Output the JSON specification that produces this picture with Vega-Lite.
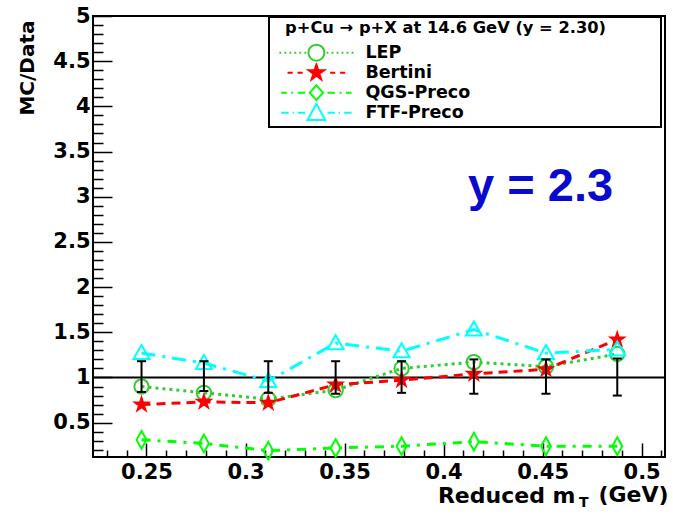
{
  "$schema": "https://vega.github.io/schema/vega-lite/v6.json",
  "width": 572,
  "height": 441,
  "autosize": {"type": "none"},
  "padding": {"left": 93, "top": 16, "right": 8, "bottom": 57},
  "background": "white",
  "config": {
    "view": {"stroke": "black", "strokeWidth": 2},
    "axis": {"grid": false, "domain": false},
    "legend": {
      "titleFont": "DejaVu Sans", "titleFontSize": 16.3, "titleFontWeight": "bold", "titleColor": "black",
      "titlePadding": 6, "titleLimit": 2000,
      "labelFont": "DejaVu Sans", "labelFontSize": 17.5, "labelFontWeight": "bold", "labelColor": "black",
      "labelOffset": 11, "labelLimit": 400,
      "symbolSize": 5476, "symbolStrokeWidth": 2, "symbolOffset": 6, "symbolOpacity": 1,
      "clipHeight": 20, "rowPadding": 0, "padding": 3.4,
      "fillColor": "white", "strokeColor": "black", "strokeWidth": 2
    }
  },
  "datasets": {
    "models": [
      {"model": "LEP", "x": 0.2475, "y": 0.90},
      {"model": "LEP", "x": 0.2790, "y": 0.83},
      {"model": "LEP", "x": 0.3115, "y": 0.76},
      {"model": "LEP", "x": 0.3455, "y": 0.86},
      {"model": "LEP", "x": 0.3788, "y": 1.10},
      {"model": "LEP", "x": 0.4153, "y": 1.17},
      {"model": "LEP", "x": 0.4517, "y": 1.12},
      {"model": "LEP", "x": 0.4877, "y": 1.26},
      {"model": "Bertini", "x": 0.2475, "y": 0.70},
      {"model": "Bertini", "x": 0.2790, "y": 0.73},
      {"model": "Bertini", "x": 0.3115, "y": 0.72},
      {"model": "Bertini", "x": 0.3455, "y": 0.92},
      {"model": "Bertini", "x": 0.3788, "y": 0.97},
      {"model": "Bertini", "x": 0.4153, "y": 1.04},
      {"model": "Bertini", "x": 0.4517, "y": 1.09},
      {"model": "Bertini", "x": 0.4877, "y": 1.42},
      {"model": "QGS-Preco", "x": 0.2475, "y": 0.31},
      {"model": "QGS-Preco", "x": 0.2790, "y": 0.27},
      {"model": "QGS-Preco", "x": 0.3115, "y": 0.19},
      {"model": "QGS-Preco", "x": 0.3455, "y": 0.22},
      {"model": "QGS-Preco", "x": 0.3788, "y": 0.24},
      {"model": "QGS-Preco", "x": 0.4153, "y": 0.29},
      {"model": "QGS-Preco", "x": 0.4517, "y": 0.24},
      {"model": "QGS-Preco", "x": 0.4877, "y": 0.24},
      {"model": "FTF-Preco", "x": 0.2475, "y": 1.27},
      {"model": "FTF-Preco", "x": 0.2790, "y": 1.16},
      {"model": "FTF-Preco", "x": 0.3115, "y": 0.96},
      {"model": "FTF-Preco", "x": 0.3455, "y": 1.38},
      {"model": "FTF-Preco", "x": 0.3788, "y": 1.29},
      {"model": "FTF-Preco", "x": 0.4153, "y": 1.53},
      {"model": "FTF-Preco", "x": 0.4517, "y": 1.27},
      {"model": "FTF-Preco", "x": 0.4877, "y": 1.31}
    ],
    "meas": [
      {"x": 0.2475, "lo": 0.84, "hi": 1.18},
      {"x": 0.2790, "lo": 0.85, "hi": 1.18},
      {"x": 0.3115, "lo": 0.83, "hi": 1.18},
      {"x": 0.3455, "lo": 0.82, "hi": 1.18},
      {"x": 0.3788, "lo": 0.83, "hi": 1.18},
      {"x": 0.4153, "lo": 0.82, "hi": 1.20},
      {"x": 0.4517, "lo": 0.82, "hi": 1.20},
      {"x": 0.4877, "lo": 0.80, "hi": 1.21}
    ]
  },
  "layer": [
    {
      "data": {"values": [{}]},
      "mark": {"type": "rule", "color": "black", "strokeWidth": 2},
      "encoding": {
        "y": {"datum": 1, "type": "quantitative", "scale": {"domain": [0.12, 5], "nice": false, "zero": false}, "axis": null}
      }
    },
    {
      "data": {"name": "models"},
      "mark": {"type": "line", "strokeWidth": 3},
      "encoding": {
        "x": {"field": "x", "type": "quantitative", "scale": {"domain": [0.223, 0.5118], "nice": false, "zero": false}, "axis": null},
        "y": {"field": "y", "type": "quantitative", "scale": {"domain": [0.12, 5], "nice": false, "zero": false}, "axis": null},
        "stroke": {
          "field": "model", "type": "nominal",
          "scale": {"domain": ["LEP", "Bertini", "QGS-Preco", "FTF-Preco"], "range": ["#33cc33", "#ff0000", "#00ff00", "#00ffff"]},
          "legend": null
        },
        "strokeDash": {
          "field": "model", "type": "nominal",
          "scale": {"domain": ["LEP", "Bertini", "QGS-Preco", "FTF-Preco"], "range": [[3, 4], [9, 6], [9, 7, 3, 7], [14, 7, 3, 7]]},
          "legend": null
        }
      }
    },
    {
      "data": {"name": "models"},
      "mark": {"type": "point", "size": 256, "strokeWidth": 2, "opacity": 1},
      "encoding": {
        "x": {"field": "x", "type": "quantitative", "scale": {"domain": [0.223, 0.5118], "nice": false, "zero": false}, "axis": null},
        "y": {"field": "y", "type": "quantitative", "scale": {"domain": [0.12, 5], "nice": false, "zero": false}, "axis": null},
        "stroke": {
          "field": "model", "type": "nominal",
          "scale": {"domain": ["LEP", "Bertini", "QGS-Preco", "FTF-Preco"], "range": ["#33cc33", "#ff0000", "#00ff00", "#00ffff"]},
          "legend": null
        },
        "fill": {
          "field": "model", "type": "nominal",
          "scale": {"domain": ["LEP", "Bertini", "QGS-Preco", "FTF-Preco"], "range": ["transparent", "#ff0000", "transparent", "transparent"]},
          "legend": null
        },
        "shape": {
          "field": "model", "type": "nominal",
          "scale": {"domain": ["LEP", "Bertini", "QGS-Preco", "FTF-Preco"], "range": [
            "M-0.9,0A0.9,0.9 0 1,0 0.9,0A0.9,0.9 0 1,0 -0.9,0Z",
            "M0,-0.85L0.191,-0.263L0.808,-0.263L0.309,0.1L0.5,0.688L0,0.325L-0.5,0.688L-0.309,0.1L-0.808,-0.263L-0.191,-0.263Z",
            "M0,-1.1L0.62,0L0,1.1L-0.62,0Z",
            "M0,-1L1,0.75L-1,0.75Z"
          ]},
          "legend": null
        }
      }
    },
    {
      "data": {"name": "models"},
      "mark": {"type": "point", "size": 256, "strokeWidth": 2, "opacity": 0},
      "encoding": {
        "x": {"field": "x", "type": "quantitative", "scale": {"domain": [0.223, 0.5118], "nice": false, "zero": false}, "axis": null},
        "y": {"field": "y", "type": "quantitative", "scale": {"domain": [0.12, 5], "nice": false, "zero": false}, "axis": null},
        "stroke": {
          "field": "model", "type": "nominal",
          "scale": {"domain": ["LEP", "Bertini", "QGS-Preco", "FTF-Preco"], "range": ["#33cc33", "#ff0000", "#00ff00", "#00ffff"]},
          "legend": {"title": "\u2800p+Cu \u2192 p+X at 14.6 GeV (y = 2.30)\u2800\u2800\u2800\u2800", "orient": "none", "legendX": 176, "legendY": 1}
        },
        "fill": {
          "field": "model", "type": "nominal",
          "scale": {"domain": ["LEP", "Bertini", "QGS-Preco", "FTF-Preco"], "range": ["transparent", "#ff0000", "transparent", "transparent"]},
          "legend": {"title": "\u2800p+Cu \u2192 p+X at 14.6 GeV (y = 2.30)\u2800\u2800\u2800\u2800", "orient": "none", "legendX": 176, "legendY": 1}
        },
        "shape": {
          "field": "model", "type": "nominal",
          "scale": {"domain": ["LEP", "Bertini", "QGS-Preco", "FTF-Preco"], "range": [
            "M-1,0H-0.95M-0.865,0H-0.815M-0.73,0H-0.68M-0.595,0H-0.545M-0.46,0H-0.41M-0.325,0H-0.275M0.275,0H0.325M0.41,0H0.46M0.545,0H0.595M0.68,0H0.73M0.815,0H0.865M0.95,0H1M-0.216,0A0.216,0.216 0 1,0 0.216,0A0.216,0.216 0 1,0 -0.216,0Z",
            "M-0.78,0H-0.64M-0.51,0H-0.37M0.37,0H0.51M0.64,0H0.78M0,-0.22L0.049,-0.068L0.209,-0.068L0.08,0.026L0.129,0.178L0,0.084L-0.129,0.178L-0.08,0.026L-0.209,-0.068L-0.049,-0.068Z",
            "M-0.95,0H-0.8M-0.68,0H-0.63M-0.5,0H-0.3M0.3,0H0.5M0.63,0H0.68M0.8,0H0.95M0,-0.2L0.18,0L0,0.2L-0.18,0Z",
            "M-0.95,0H-0.75M-0.64,0H-0.6M-0.5,0H-0.3M0.3,0H0.5M0.6,0H0.64M0.75,0H0.95M0,-0.24L0.24,0.2L-0.24,0.2Z"
          ]},
          "legend": {"title": "\u2800p+Cu \u2192 p+X at 14.6 GeV (y = 2.30)\u2800\u2800\u2800\u2800", "orient": "none", "legendX": 176, "legendY": 1}
        }
      }
    },
    {
      "data": {"name": "meas"},
      "mark": {"type": "rule", "color": "black", "strokeWidth": 2},
      "encoding": {
        "x": {
          "field": "x", "type": "quantitative",
          "scale": {"domain": [0.223, 0.5118], "nice": false, "zero": false},
          "axis": {
            "orient": "bottom",
            "values": [0.25, 0.3, 0.35, 0.4, 0.45, 0.5],
            "format": "~g", "ticks": false, "domain": false, "grid": false,
            "labelFont": "DejaVu Sans", "labelFontSize": 21, "labelFontWeight": "bold", "labelColor": "black",
            "labelPadding": 4, "labelFlush": false, "labelOverlap": false,
            "title": "Reduced m",
            "titleFont": "DejaVu Sans", "titleFontSize": 22, "titleFontWeight": "bold", "titleColor": "black",
            "titleX": 482, "titleY": 45, "titleAlign": "right", "titleBaseline": "alphabetic", "titleAnchor": "end"
          }
        },
        "y": {
          "field": "lo", "type": "quantitative",
          "scale": {"domain": [0.12, 5], "nice": false, "zero": false},
          "axis": {
            "orient": "left",
            "values": [0.5, 1, 1.5, 2, 2.5, 3, 3.5, 4, 4.5, 5],
            "format": "~g", "ticks": false, "domain": false, "grid": false,
            "labelFont": "DejaVu Sans", "labelFontSize": 21, "labelFontWeight": "bold", "labelColor": "black",
            "labelPadding": 3, "labelFlush": false, "labelOverlap": false,
            "title": "MC/Data",
            "titleFont": "DejaVu Sans", "titleFontSize": 20, "titleFontWeight": "bold", "titleColor": "black",
            "titleX": -66, "titleY": 4, "titleAlign": "right", "titleBaseline": "middle", "titleAngle": -90, "titleAnchor": "end"
          }
        },
        "y2": {"field": "hi"}
      }
    },
    {
      "data": {"name": "meas"},
      "mark": {"type": "tick", "orient": "horizontal", "color": "black", "size": 9, "thickness": 2, "opacity": 1},
      "encoding": {
        "x": {
          "field": "x", "type": "quantitative",
          "scale": {"domain": [0.223, 0.5118], "nice": false, "zero": false},
          "axis": {
            "orient": "bottom", "labels": false, "title": null, "domain": false, "grid": false,
            "values": [0.25, 0.3, 0.35, 0.4, 0.45, 0.5],
            "ticks": true, "tickSize": -14, "tickColor": "black", "tickWidth": 1.5
          }
        },
        "y": {
          "field": "hi", "type": "quantitative",
          "scale": {"domain": [0.12, 5], "nice": false, "zero": false},
          "axis": {
            "orient": "left", "labels": false, "title": null, "domain": false, "grid": false,
            "values": [0.5, 1, 1.5, 2, 2.5, 3, 3.5, 4, 4.5, 5],
            "ticks": true, "tickSize": -19, "tickColor": "black", "tickWidth": 1.5
          }
        }
      }
    },
    {
      "data": {"name": "meas"},
      "mark": {"type": "tick", "orient": "horizontal", "color": "black", "size": 9, "thickness": 2, "opacity": 1},
      "encoding": {
        "x": {
          "field": "x", "type": "quantitative",
          "scale": {"domain": [0.223, 0.5118], "nice": false, "zero": false},
          "axis": {
            "orient": "bottom", "labels": false, "title": null, "domain": false, "grid": false,
            "values": [0.23, 0.24, 0.26, 0.27, 0.28, 0.29, 0.31, 0.32, 0.33, 0.34, 0.36, 0.37, 0.38, 0.39, 0.41, 0.42, 0.43, 0.44, 0.46, 0.47, 0.48, 0.49, 0.51],
            "ticks": true, "tickSize": -7, "tickColor": "black", "tickWidth": 1.5
          }
        },
        "y": {
          "field": "lo", "type": "quantitative",
          "scale": {"domain": [0.12, 5], "nice": false, "zero": false},
          "axis": {
            "orient": "left", "labels": false, "title": null, "domain": false, "grid": false,
            "values": [0.2, 0.3, 0.4, 0.6, 0.7, 0.8, 0.9, 1.1, 1.2, 1.3, 1.4, 1.6, 1.7, 1.8, 1.9, 2.1, 2.2, 2.3, 2.4, 2.6, 2.7, 2.8, 2.9, 3.1, 3.2, 3.3, 3.4, 3.6, 3.7, 3.8, 3.9, 4.1, 4.2, 4.3, 4.4, 4.6, 4.7, 4.8, 4.9],
            "ticks": true, "tickSize": -10, "tickColor": "black", "tickWidth": 1.5
          }
        }
      }
    },
    {
      "data": {"values": [{}]},
      "mark": {"type": "text", "font": "Liberation Sans", "fontSize": 47, "fontWeight": "bold", "color": "#0a0acc", "align": "center", "baseline": "alphabetic"},
      "encoding": {
        "x": {"datum": 0.449, "type": "quantitative", "axis": null},
        "y": {"datum": 2.95, "type": "quantitative", "axis": null},
        "text": {"value": "y = 2.3"}
      }
    },
    {
      "data": {"values": [{}]},
      "mark": {"type": "text", "font": "DejaVu Sans", "fontSize": 14, "fontWeight": "bold", "color": "black", "align": "center", "baseline": "alphabetic"},
      "encoding": {
        "x": {"datum": 0.4708, "type": "quantitative", "axis": null},
        "y": {"datum": -0.433, "type": "quantitative", "axis": null},
        "text": {"value": "T"}
      }
    },
    {
      "data": {"values": [{}]},
      "mark": {"type": "text", "font": "DejaVu Sans", "fontSize": 22, "fontWeight": "bold", "color": "black", "align": "left", "baseline": "alphabetic"},
      "encoding": {
        "x": {"datum": 0.4782, "type": "quantitative", "axis": null},
        "y": {"datum": -0.378, "type": "quantitative", "axis": null},
        "text": {"value": "(GeV)"}
      }
    }
  ],
  "resolve": {
    "axis": {"x": "independent", "y": "independent"},
    "scale": {"shape": "independent", "stroke": "independent", "fill": "independent", "strokeDash": "independent"}
  }
}
